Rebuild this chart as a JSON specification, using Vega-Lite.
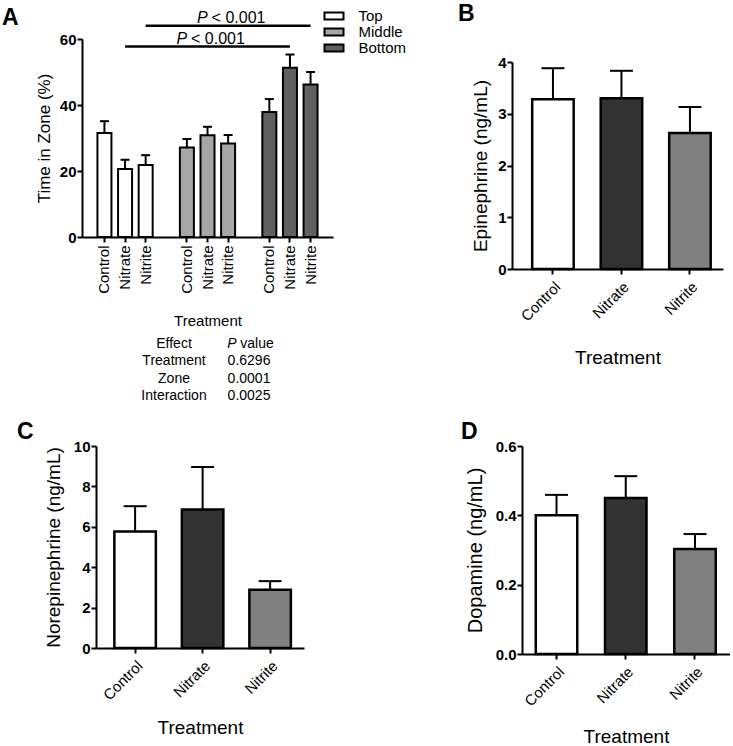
{
  "$schema": "https://vega.github.io/schema/vega-lite/v6.json",
  "padding": {"left": 2, "top": 3, "right": 0, "bottom": 0},
  "background": "white",
  "config": {
    "font": "Liberation Sans",
    "view": {"stroke": null},
    "axis": {"domainColor": "black", "domainWidth": 2, "tickColor": "black", "tickWidth": 2, "tickSize": 5, "grid": false, "labelColor": "black", "titleColor": "black", "titleFontWeight": "normal", "labelFont": "Liberation Sans", "titleFont": "Liberation Sans", "labelFontSize": 15},
    "axisY": {"labelFontWeight": "bold", "labelPadding": 1},
    "title": {"fontSize": 23, "fontWeight": "bold", "anchor": "start", "frame": "group", "baseline": "alphabetic", "offset": 0, "color": "black", "font": "Liberation Sans"}
  },
  "columns": 2,
  "bounds": "flush",
  "align": "each",
  "spacing": {"row": 177, "column": 179},
  "resolve": {"scale": {"fill": "independent"}, "legend": {"fill": "independent"}},
  "concat": [
    {
      "width": 251,
      "height": 198,
      "title": {"text": "A", "dx": -80, "dy": 25},
      "layer": [
        {
          "data": {"values": [
            {"zone": "Top", "treatment": "Control", "key": "Top|Control", "mean": 31.5, "upper": 35.1},
            {"zone": "Top", "treatment": "Nitrate", "key": "Top|Nitrate", "mean": 20.6, "upper": 23.4},
            {"zone": "Top", "treatment": "Nitrite", "key": "Top|Nitrite", "mean": 21.8, "upper": 24.8},
            {"zone": "Middle", "treatment": "Control", "key": "Middle|Control", "mean": 27.1, "upper": 29.7},
            {"zone": "Middle", "treatment": "Nitrate", "key": "Middle|Nitrate", "mean": 30.8, "upper": 33.4},
            {"zone": "Middle", "treatment": "Nitrite", "key": "Middle|Nitrite", "mean": 28.3, "upper": 30.9},
            {"zone": "Bottom", "treatment": "Control", "key": "Bottom|Control", "mean": 37.9, "upper": 41.8},
            {"zone": "Bottom", "treatment": "Nitrate", "key": "Bottom|Nitrate", "mean": 51.3, "upper": 55.3},
            {"zone": "Bottom", "treatment": "Nitrite", "key": "Bottom|Nitrite", "mean": 46.2, "upper": 50.0}
          ]},
          "encoding": {
            "x": {
              "field": "key", "type": "nominal", "title": "Treatment",
              "scale": {"domain": ["Top|Control", "Top|Nitrate", "Top|Nitrite", "gap1", "Middle|Control", "Middle|Nitrate", "Middle|Nitrite", "gap2", "Bottom|Control", "Bottom|Nitrate", "Bottom|Nitrite"], "paddingInner": 0.223, "paddingOuter": 0.7},
              "axis": {
                "title": "Treatment", "titleFontSize": 15, "labelAngle": 270, "labelPadding": 3, "titlePadding": 20,
                "labelExpr": "indexof(datum.value, '|') >= 0 ? split(datum.value, '|')[1] : ''",
                "tickOpacity": {"condition": {"test": "indexof(datum.value, '|') < 0", "value": 0}, "value": 1}
              }
            }
          },
          "layer": [
            {
              "mark": {"type": "bar", "size": 14, "stroke": "black", "strokeWidth": 2},
              "encoding": {
                "y": {"field": "mean", "type": "quantitative", "title": "Time in Zone (%)", "scale": {"domain": [0, 60]}, "axis": {"title": "Time in Zone (%)", "titleFontSize": 17, "titleColor": "black", "values": [0, 20, 40, 60], "format": "d", "labelFontWeight": "bold", "labelFontSize": 15, "labelPadding": 1, "titlePadding": 6}},
                "fill": {"field": "zone", "type": "nominal", "scale": {"domain": ["Top", "Middle", "Bottom"], "range": ["#ffffff", "#a6a6a6", "#606060"]},
                  "legend": {"title": null, "orient": "none", "legendX": 244.5, "legendY": -30.5, "symbolType": "M-1.6,-0.6H1.6V0.6H-1.6Z", "symbolSize": 141, "symbolStrokeColor": "black", "symbolStrokeWidth": 2, "symbolOpacity": 1, "labelFontSize": 15, "labelOffset": 17, "rowPadding": -1, "padding": 0, "labelColor": "black"}}
              }
            },
            {
              "mark": {"type": "rule", "strokeWidth": 2, "color": "black"},
              "encoding": {"y": {"field": "mean", "type": "quantitative", "title": "Time in Zone (%)"}, "y2": {"field": "upper"}}
            },
            {
              "mark": {"type": "tick", "orient": "horizontal", "size": 9, "thickness": 2, "color": "black", "opacity": 1},
              "encoding": {"y": {"field": "upper", "type": "quantitative", "title": "Time in Zone (%)"}}
            },
            {
              "data": {"values": [
                {"from": "Top|Nitrate", "to": "Bottom|Nitrate", "mid": "Middle|Nitrate", "level": 57.7, "label": "< 0.001"},
                {"from": "Top|Nitrite", "to": "Bottom|Nitrite", "mid": "Middle|Nitrite", "level": 64.0, "label": "< 0.001"}
              ]},
              "layer": [
                {
                  "mark": {"type": "rule", "strokeWidth": 2.5, "color": "black"},
                  "encoding": {"x": {"field": "from", "type": "nominal", "title": "Treatment"}, "x2": {"field": "to"}, "y": {"field": "level", "type": "quantitative", "title": "Time in Zone (%)"}}
                },
                {
                  "mark": {"type": "text", "text": "P", "fontStyle": "italic", "fontSize": 16, "align": "left", "baseline": "alphabetic", "dx": -31, "dy": -3, "color": "black"},
                  "encoding": {"x": {"field": "mid", "type": "nominal", "title": "Treatment"}, "y": {"field": "level", "type": "quantitative", "title": "Time in Zone (%)"}}
                },
                {
                  "mark": {"type": "text", "fontSize": 16, "align": "left", "baseline": "alphabetic", "dx": -16.5, "dy": -3, "color": "black"},
                  "encoding": {"x": {"field": "mid", "type": "nominal", "title": "Treatment"}, "y": {"field": "level", "type": "quantitative", "title": "Time in Zone (%)"}, "text": {"field": "label"}}
                }
              ]
            }
          ]
        },
        {
          "data": {"values": [
            {"effect": "Effect", "p": "value"},
            {"effect": "Treatment", "p": "0.6296"},
            {"effect": "Zone", "p": "0.0001"},
            {"effect": "Interaction", "p": "0.0025"}
          ]},
          "encoding": {
            "y": {"field": "effect", "type": "nominal", "scale": {"type": "point", "domain": ["Effect", "Treatment", "Zone", "Interaction"], "range": [305, 357], "padding": 0}, "axis": null}
          },
          "layer": [
            {
              "mark": {"type": "text", "fontSize": 14, "baseline": "middle", "align": "center", "color": "black"},
              "encoding": {"x": {"datum": "left", "type": "nominal", "scale": {"type": "point", "domain": ["left", "right"], "range": [92, 167], "padding": 0}, "axis": null}, "text": {"field": "effect"}}
            },
            {
              "transform": [{"filter": "datum.effect !== 'Effect'"}],
              "mark": {"type": "text", "fontSize": 14, "baseline": "middle", "align": "center", "color": "black"},
              "encoding": {"x": {"datum": "right", "type": "nominal"}, "text": {"field": "p"}}
            },
            {
              "transform": [{"filter": "datum.effect === 'Effect'"}],
              "mark": {"type": "text", "text": "P", "fontStyle": "italic", "fontSize": 14, "baseline": "middle", "align": "center", "dx": -17, "color": "black"},
              "encoding": {"x": {"datum": "right", "type": "nominal"}}
            },
            {
              "transform": [{"filter": "datum.effect === 'Effect'"}],
              "mark": {"type": "text", "fontSize": 14, "baseline": "middle", "align": "center", "dx": 8, "color": "black"},
              "encoding": {"x": {"datum": "right", "type": "nominal"}, "text": {"field": "p"}}
            }
          ]
        }
      ],
      "resolve": {"scale": {"x": "independent", "y": "independent"}}
    },
    {
      "width": 211,
      "height": 230,
      "title": {"text": "B", "dx": -54, "dy": -9},
      "data": {"values": [
        {"treatment": "Control", "mean": 3.28, "upper": 3.88},
        {"treatment": "Nitrate", "mean": 3.30, "upper": 3.83},
        {"treatment": "Nitrite", "mean": 2.63, "upper": 3.13}
      ]},
      "encoding": {
        "x": {"field": "treatment", "type": "nominal", "title": "Treatment",
          "scale": {"paddingInner": 0.35, "paddingOuter": 0.215, "align": 0.634},
          "axis": {"title": "Treatment", "titleFontSize": 19, "labelAngle": -45, "labelPadding": 5, "titlePadding": 25}}
      },
      "layer": [
        {
          "mark": {"type": "bar", "size": 41.5, "stroke": "black", "strokeWidth": 2.5},
          "encoding": {
            "y": {"field": "mean", "type": "quantitative", "title": "Epinephrine (ng/mL)", "scale": {"domain": [0, 4], "range": [230, 23]}, "axis": {"title": "Epinephrine (ng/mL)", "titleFontSize": 19, "values": [0, 1, 2, 3, 4], "format": "d", "labelFontWeight": "bold", "titlePadding": 7}},
            "fill": {"field": "treatment", "type": "nominal", "scale": {"domain": ["Control", "Nitrate", "Nitrite"], "range": ["#ffffff", "#333333", "#808080"]}, "legend": null}
          }
        },
        {
          "mark": {"type": "rule", "strokeWidth": 2, "color": "black"},
          "encoding": {"y": {"field": "mean", "type": "quantitative", "title": "Epinephrine (ng/mL)"}, "y2": {"field": "upper"}}
        },
        {
          "mark": {"type": "tick", "orient": "horizontal", "size": 23, "thickness": 2, "color": "black", "opacity": 1},
          "encoding": {"y": {"field": "upper", "type": "quantitative", "title": "Epinephrine (ng/mL)"}}
        }
      ]
    },
    {
      "width": 222,
      "height": 202,
      "title": {"text": "C", "dx": -65, "dy": 9},
      "data": {"values": [
        {"treatment": "Control", "mean": 5.77, "upper": 7.02},
        {"treatment": "Nitrate", "mean": 6.86, "upper": 8.96},
        {"treatment": "Nitrite", "mean": 2.88, "upper": 3.31}
      ]},
      "encoding": {
        "x": {"field": "treatment", "type": "nominal", "title": "Treatment",
          "scale": {"range": [14, 222], "paddingInner": 0.35, "paddingOuter": 0.2156, "align": 0.59},
          "axis": {"title": "Treatment", "titleFontSize": 19, "labelAngle": -45, "labelPadding": 5, "titlePadding": 16}}
      },
      "layer": [
        {
          "mark": {"type": "bar", "size": 41.5, "stroke": "black", "strokeWidth": 2.5},
          "encoding": {
            "y": {"field": "mean", "type": "quantitative", "title": "Norepinephrine (ng/mL)", "scale": {"domain": [0, 10]}, "axis": {"title": "Norepinephrine (ng/mL)", "titleFontSize": 19, "values": [0, 2, 4, 6, 8, 10], "format": "d", "labelFontWeight": "bold", "titlePadding": 10, "offset": -14}},
            "fill": {"field": "treatment", "type": "nominal", "scale": {"domain": ["Control", "Nitrate", "Nitrite"], "range": ["#ffffff", "#333333", "#808080"]}, "legend": null}
          }
        },
        {
          "mark": {"type": "rule", "strokeWidth": 2, "color": "black"},
          "encoding": {"y": {"field": "mean", "type": "quantitative", "title": "Norepinephrine (ng/mL)"}, "y2": {"field": "upper"}}
        },
        {
          "mark": {"type": "tick", "orient": "horizontal", "size": 23, "thickness": 2, "color": "black", "opacity": 1},
          "encoding": {"y": {"field": "upper", "type": "quantitative", "title": "Norepinephrine (ng/mL)"}}
        }
      ]
    },
    {
      "width": 218,
      "height": 208,
      "title": {"text": "D", "dx": -51, "dy": 9},
      "data": {"values": [
        {"treatment": "Control", "mean": 0.400, "upper": 0.459},
        {"treatment": "Nitrate", "mean": 0.450, "upper": 0.513},
        {"treatment": "Nitrite", "mean": 0.303, "upper": 0.346}
      ]},
      "encoding": {
        "x": {"field": "treatment", "type": "nominal", "title": "Treatment",
          "scale": {"range": [10, 218], "paddingInner": 0.35, "paddingOuter": 0.177, "align": 0.49},
          "axis": {"title": "Treatment", "titleFontSize": 19, "labelAngle": -45, "labelPadding": 5, "titlePadding": 19}}
      },
      "layer": [
        {
          "mark": {"type": "bar", "size": 41.5, "stroke": "black", "strokeWidth": 2.5},
          "encoding": {
            "y": {"field": "mean", "type": "quantitative", "title": "Dopamine (ng/mL)", "scale": {"domain": [0, 0.6]}, "axis": {"title": "Dopamine (ng/mL)", "titleFontSize": 20, "values": [0, 0.2, 0.4, 0.6], "format": ".1f", "labelFontWeight": "bold", "titlePadding": 10, "offset": -10}},
            "fill": {"field": "treatment", "type": "nominal", "scale": {"domain": ["Control", "Nitrate", "Nitrite"], "range": ["#ffffff", "#333333", "#808080"]}, "legend": null}
          }
        },
        {
          "mark": {"type": "rule", "strokeWidth": 2, "color": "black"},
          "encoding": {"y": {"field": "mean", "type": "quantitative", "title": "Dopamine (ng/mL)"}, "y2": {"field": "upper"}}
        },
        {
          "mark": {"type": "tick", "orient": "horizontal", "size": 23, "thickness": 2, "color": "black", "opacity": 1},
          "encoding": {"y": {"field": "upper", "type": "quantitative", "title": "Dopamine (ng/mL)"}}
        }
      ]
    }
  ]
}
